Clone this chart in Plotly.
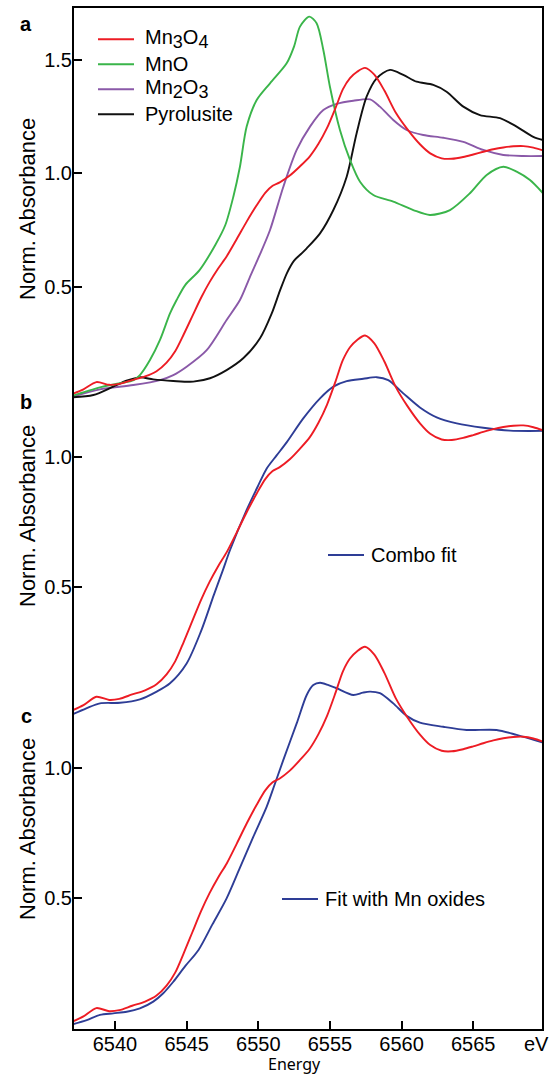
import plotly.graph_objects as go

# ---------------- data ----------------
mn3o4_e = [6537.07, 6537.8, 6538.7, 6539.6, 6540.3, 6541.2, 6542.1, 6542.9, 6543.6, 6544.2,
           6544.8, 6545.4, 6546.0, 6546.6, 6547.2, 6547.8, 6548.5, 6549.2, 6549.9, 6550.5,
           6551.0, 6551.5, 6552.2, 6552.9, 6553.6, 6554.2, 6554.8, 6555.4, 6555.9, 6556.4,
           6556.9, 6557.45, 6558.1, 6558.8, 6559.6, 6560.4, 6561.3, 6562.0, 6562.8, 6563.5,
           6564.3, 6565.0, 6565.7, 6566.4, 6567.1, 6567.8, 6568.5, 6569.2, 6569.87]
mn3o4_v = [0.028, 0.047, 0.079, 0.067, 0.071, 0.088, 0.104, 0.127, 0.165, 0.215,
           0.29, 0.37, 0.45, 0.52, 0.58, 0.634, 0.71, 0.788, 0.86, 0.915,
           0.945, 0.96, 0.99, 1.03, 1.075, 1.13, 1.2, 1.29, 1.37, 1.42,
           1.448, 1.465, 1.435, 1.365, 1.267, 1.195, 1.127, 1.088, 1.066, 1.064,
           1.072, 1.083, 1.095, 1.106, 1.114, 1.119, 1.12, 1.113, 1.101]

mno_e = [6537.07, 6538.0, 6538.95, 6540.35, 6541.3, 6541.74, 6542.44, 6543.14, 6543.84, 6544.3,
         6544.9, 6545.9, 6547.0, 6547.7, 6548.26, 6548.72, 6549.19, 6549.89, 6550.82, 6551.98,
         6552.5, 6552.91, 6553.56, 6554.07, 6554.54, 6555.0, 6555.7, 6556.4, 6557.1, 6558.03,
         6559.42, 6560.82, 6561.98, 6563.38, 6564.77, 6565.94, 6567.1, 6568.03, 6568.96, 6569.87]
mno_v = [0.019, 0.038, 0.056, 0.074, 0.088, 0.110, 0.176, 0.265, 0.382, 0.441,
         0.507, 0.573, 0.684, 0.772, 0.897, 1.029, 1.206, 1.323, 1.397, 1.485,
         1.56, 1.647, 1.691, 1.662, 1.544, 1.382, 1.191, 1.059, 0.963, 0.904,
         0.875, 0.838, 0.816, 0.838, 0.912, 0.993, 1.029, 1.007, 0.970, 0.912]

mn2o3_e = [6537.07, 6538.95, 6541.28, 6543.14, 6544.07, 6545.0, 6546.4, 6547.79, 6548.72, 6549.4,
           6550.1, 6550.82, 6551.75, 6552.68, 6553.61, 6554.54, 6555.47, 6556.63, 6557.8, 6558.49,
           6559.42, 6560.35, 6561.51, 6562.91, 6564.31, 6565.7, 6567.1, 6568.49, 6569.87]
mn2o3_v = [0.015, 0.047, 0.066, 0.088, 0.110, 0.147, 0.220, 0.353, 0.441, 0.54,
           0.64, 0.75, 0.941, 1.103, 1.206, 1.279, 1.306, 1.320, 1.326, 1.294,
           1.235, 1.191, 1.169, 1.157, 1.139, 1.103, 1.081, 1.076, 1.076]

pyro_e = [6537.07, 6538.49, 6539.88, 6540.8, 6541.74, 6542.67, 6544.07, 6545.46, 6546.63, 6547.79,
          6548.95, 6550.12, 6550.94, 6551.5, 6552.0, 6552.5, 6553.0, 6553.38, 6554.31, 6555.24,
          6556.17, 6556.86, 6557.56, 6558.26, 6559.19, 6560.12, 6561.05, 6562.21, 6563.14, 6564.31,
          6565.47, 6566.87, 6568.03, 6569.19, 6569.87]
pyro_v = [0.012, 0.022, 0.059, 0.085, 0.100, 0.091, 0.084, 0.081, 0.096, 0.132,
          0.184, 0.272, 0.382, 0.48, 0.56, 0.615, 0.645, 0.669, 0.735, 0.838,
          0.985, 1.176, 1.338, 1.419, 1.456, 1.434, 1.404, 1.390, 1.360, 1.294,
          1.257, 1.243, 1.206, 1.161, 1.147]

combo_e = [6537.07, 6538.0, 6538.95, 6540.35, 6541.74, 6542.91, 6543.84, 6545.0, 6546.0, 6546.9,
           6547.5, 6548.03, 6549.19, 6550.0, 6550.59, 6551.28, 6551.98, 6553.14, 6554.31, 6555.24,
           6556.17, 6557.33, 6558.26, 6559.07, 6560.12, 6561.28, 6562.45, 6563.85, 6565.7, 6567.56,
           6569.87]
combo_v = [0.013, 0.035, 0.054, 0.056, 0.069, 0.099, 0.131, 0.207, 0.33, 0.47,
           0.56, 0.642, 0.796, 0.89, 0.955, 1.005, 1.055, 1.147, 1.224, 1.269,
           1.290, 1.299, 1.305, 1.294, 1.243, 1.189, 1.151, 1.128, 1.111, 1.100,
           1.099]

oxfit_e = [6537.05, 6538.03, 6538.95, 6539.88, 6540.82, 6541.74, 6542.67, 6543.37, 6544.07, 6544.9,
           6545.83, 6546.8, 6547.79, 6548.7, 6549.65, 6550.59, 6551.1, 6551.75, 6552.68, 6553.38,
           6553.84, 6554.31, 6554.9, 6555.47, 6556.63, 6557.3, 6557.8, 6558.49, 6559.42, 6560.35,
           6561.28, 6562.91, 6564.54, 6566.63, 6568.03, 6569.87]
oxfit_v = [0.017, 0.033, 0.053, 0.059, 0.065, 0.078, 0.104, 0.136, 0.180, 0.24,
           0.302, 0.40, 0.50, 0.615, 0.736, 0.852, 0.93, 1.031, 1.171, 1.280,
           1.318, 1.327, 1.318, 1.306, 1.280, 1.289, 1.293, 1.287, 1.248, 1.200,
           1.174, 1.158, 1.146, 1.146, 1.127, 1.097]

x_ticks = [6540, 6545, 6550, 6555, 6560, 6565]
ticks_a = [0.5, 1.0, 1.5]
ticks_bc = [0.5, 1.0]

# ---------------- styling ----------------
RED = "#ed1c24"
GREEN = "#3ab54a"
PURPLE = "#8a59a8"
BLACK = "#111111"
BLUE = "#2e3d96"
LW = 1.9
FONT = "Liberation Sans, Arial, sans-serif"

W, H = 551, 1076
L, R, T, B = 73, 543, 7, 1030   # plot-area pixel box


def fx(px):
    return (px - L) / (R - L)


def fy(py):
    return (B - py) / (B - T)


def axis_range(py_top, py_bot, v_ref, py_ref, px_per_unit):
    v_top = v_ref + (py_ref - py_top) / px_per_unit
    v_bot = v_ref + (py_ref - py_bot) / px_per_unit
    return [v_bot, v_top], [fy(py_bot), fy(py_top)]


rng_a, dom_a = axis_range(7, 400, 1.0, 173.3, 226.7)
rng_b, dom_b = axis_range(300, 717.4, 1.0, 456.7, 260.7)
rng_c, dom_c = axis_range(620, 1030, 1.0, 768.0, 260.7)

fig = go.Figure()


def add(xs, ys, color, yref):
    fig.add_trace(go.Scatter(x=xs, y=ys, mode="lines", yaxis=yref, showlegend=False,
                             line=dict(color=color, width=LW, shape="spline", smoothing=0.8),
                             hoverinfo="skip", cliponaxis=False))


# panel a
add(mn2o3_e, mn2o3_v, PURPLE, "y")
add(pyro_e, pyro_v, BLACK, "y")
add(mno_e, mno_v, GREEN, "y")
add(mn3o4_e, mn3o4_v, RED, "y")
# panel b
add(combo_e, combo_v, BLUE, "y2")
add(mn3o4_e, mn3o4_v, RED, "y2")
# panel c
add(oxfit_e, oxfit_v, BLUE, "y3")
add(mn3o4_e, mn3o4_v, RED, "y3")

yax_common = dict(showgrid=False, zeroline=False, showline=False, ticks="inside",
                  ticklen=9, tickwidth=1.6, tickcolor="black", tickformat=".1f",
                  tickfont=dict(family=FONT, size=20, color="black"), anchor="x",
                  fixedrange=True)

fig.update_layout(
    width=W, height=H,
    margin=dict(l=L, r=W - R, t=T, b=H - B),
    plot_bgcolor="rgba(0,0,0,0)", paper_bgcolor="white",
    xaxis=dict(range=[6537.07, 6569.87], tickvals=x_ticks, ticks="inside", ticklen=9,
               tickwidth=1.6, tickcolor="black", showgrid=False, zeroline=False,
               showline=False, anchor="y3",
               tickfont=dict(family=FONT, size=20, color="black")),
    yaxis=dict(domain=dom_a, range=rng_a, tickvals=ticks_a, **yax_common),
    yaxis2=dict(domain=dom_b, range=rng_b, tickvals=ticks_bc, **yax_common),
    yaxis3=dict(domain=dom_c, range=rng_c, tickvals=ticks_bc, **yax_common),
)

# frame
fig.add_shape(type="rect", xref="paper", yref="paper", x0=0, x1=1, y0=0, y1=1,
              line=dict(color="black", width=2))

ann = []


def text(s, px, py, size=20, bold=False, angle=0, xanchor="center", family=FONT):
    ann.append(dict(text=("<b>%s</b>" % s) if bold else s, xref="paper", yref="paper",
                    x=fx(px), y=fy(py), xanchor=xanchor, yanchor="middle",
                    showarrow=False, textangle=angle,
                    font=dict(family=family, size=size, color="black")))


# panel letters
text("a", 26, 24, bold=True)
text("b", 26, 402, bold=True)
text("c", 26, 716, bold=True)

# y titles
for cy in (209, 516, 829):
    text("Norm. Absorbance", 27, cy, size=22, angle=-90)

# x title and unit
text("Energy", 294, 1064, size=16, family="Noto Sans, Open Sans, sans-serif")
text("eV", 536, 1044)

# legend panel a
sub = "<sub><span style='font-size:18px'>%s</span></sub>"
legend_a = [("Mn" + sub % "3" + "O" + sub % "4", RED, 39.3),
            ("MnO", GREEN, 64.3),
            ("Mn" + sub % "2" + "O" + sub % "3", PURPLE, 89.3),
            ("Pyrolusite", BLACK, 114.3)]
for label, col, py in legend_a:
    fig.add_shape(type="line", xref="paper", yref="paper", x0=fx(98), x1=fx(134),
                  y0=fy(py), y1=fy(py), line=dict(color=col, width=LW))
    text(label, 143, py, xanchor="left")

# legend panel b
fig.add_shape(type="line", xref="paper", yref="paper", x0=fx(328), x1=fx(364),
              y0=fy(555), y1=fy(555), line=dict(color=BLUE, width=LW))
text("Combo fit", 369, 555, xanchor="left")

# legend panel c
fig.add_shape(type="line", xref="paper", yref="paper", x0=fx(282), x1=fx(318),
              y0=fy(899), y1=fy(899), line=dict(color=BLUE, width=LW))
text("Fit with Mn oxides", 323, 899, xanchor="left")

fig.update_layout(annotations=ann)

fig.write_html("out.html")
